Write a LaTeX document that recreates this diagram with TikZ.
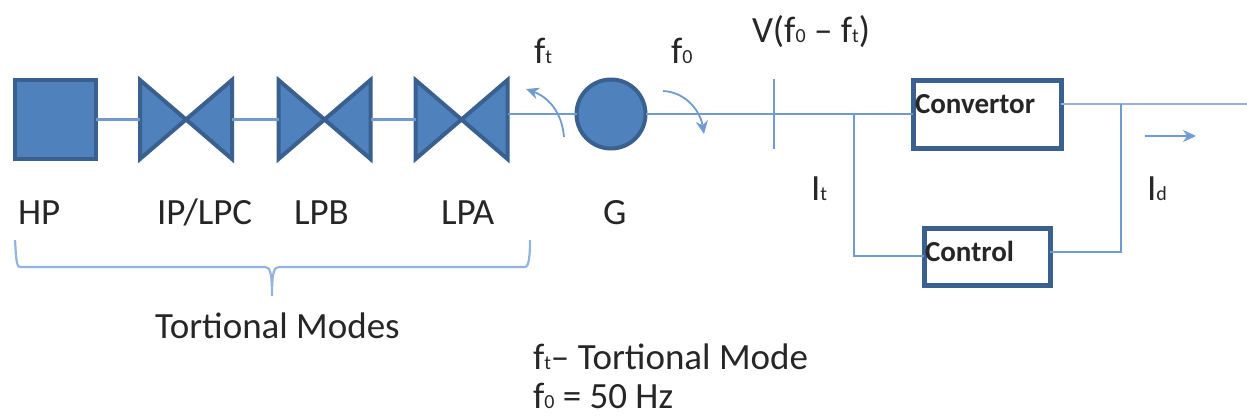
\documentclass[tikz,border=0pt]{standalone}
\usepackage{fontspec}
\setmainfont{Carlito}
\usetikzlibrary{arrows.meta}
\definecolor{fillblue}{HTML}{4F81BD}
\definecolor{edgeblue}{HTML}{3A6090}
\definecolor{wireblue}{HTML}{6F9BD1}
\newcommand{\lowtxt}[1]{{\fontsize{20}{20}\selectfont #1}}
\tikzset{
  x=1pt,y=-1pt,
  lbl/.style={anchor=base west,inner sep=0pt,outer sep=0pt,font=\fontsize{37}{37}\selectfont,text=black!85},
  boxlbl/.style={anchor=base west,inner sep=0pt,outer sep=0pt,font=\fontsize{29}{29}\selectfont\bfseries,text=black!85},
  solidshape/.style={draw=edgeblue,fill=fillblue,line width=4pt,line join=miter},
  valvebox/.style={minimum width=92pt,minimum height=79pt,inner sep=0pt,outer sep=0pt},
  whitebox/.style={draw=edgeblue,fill=white,line width=5pt,inner sep=0pt,outer sep=0pt},
  wire/.style={draw=wireblue,line width=2.8pt},
  thinwire/.style={draw=wireblue,line width=2.4pt},
  bracewire/.style={draw=wireblue!75,line width=2.2pt},
  arrowwire/.style={draw=wireblue,line width=2.2pt,-{Stealth[length=13pt,width=12pt]}}
}
\begin{document}
\begin{tikzpicture}
\useasboundingbox (0,0) rectangle (1247,416);
% equipment
\node[solidshape,minimum width=81pt,minimum height=79pt,inner sep=0pt,outer sep=0pt] (hp) at (55,119.5) {};
\node[valvebox] (v1) at (186,119.5) {};
\node[valvebox] (v2) at (324.5,119.5) {};
\node[valvebox] (v3) at (461.5,119.5) {};
\node[solidshape,circle,minimum size=69pt,inner sep=0pt,outer sep=0pt] (g) at (611,114) {};
\node[whitebox,minimum width=148pt,minimum height=68pt] (conv) at (987,114) {};
\node[whitebox,minimum width=126pt,minimum height=57pt] (ctrl) at (987,256.5) {};
\foreach \v in {v1,v2,v3}{
  \draw[solidshape] (\v.north west) -- (\v.south east) -- (\v.north east) -- (\v.south west) -- cycle;
}
% coordinates
\coordinate (tickT) at (774,79);
\coordinate (tickB) at (774,149);
\coordinate (j1) at (854,114);
\coordinate (j2) at (1121,104);
\coordinate (outE) at (1247,104);
\coordinate (ctrlL) at (ctrl.west |- 0,256);
\coordinate (ctrlR) at (ctrl.east |- 0,252);
\coordinate (convR) at (conv.east |- j2);
\coordinate (iS) at (1145,136);
\coordinate (iE) at (1196,136);
% wires
\draw[wire] (hp.east) -- (v1.west);
\draw[wire] (v1.east) -- (v2.west);
\draw[wire] (v2.east) -- (v3.west);
\draw[thinwire] (g.west) -- (g.west -| v3.east);
\draw[thinwire] (g.east) -- (conv.west);
\draw[thinwire] (tickT) -- (tickB);
\draw[thinwire] (j1) -- (j1 |- ctrlL) -- (ctrlL);
\draw[wire,draw=wireblue!75] (convR) -- (outE);
\draw[thinwire] (j2) -- (j2 |- ctrlR) -- (ctrlR);
\draw[arrowwire] (iS) -- (iE);
% rotation arrows
\coordinate (ftS) at (564,137);
\coordinate (ftE) at (526,89);
\coordinate (foS) at (663,91);
\coordinate (foE) at (704,134);
\draw[arrowwire,line width=1.8pt] (ftS) .. controls (562,112) and (548,97) .. (ftE);
\draw[arrowwire,line width=1.8pt] (foS) .. controls (685,92) and (700,110) .. (foE);
% brace
\coordinate (brL) at (15,240);
\coordinate (brR) at (530,240);
\coordinate (brT) at (272,296);
\draw[bracewire] (brL) .. controls (16,255) and (16,267) .. (20,267) -- (265,267)
  .. controls (270,267) and (272,272) .. (brT)
  .. controls (272,272) and (274,267) .. (279,267) -- (525,267)
  .. controls (529,267) and (530,255) .. (brR);
% labels
\node[lbl] (thp) at (18,224) {HP};
\node[lbl] (tip) at (157,224) {IP/LPC};
\node[lbl] (tlpb) at (294,224) {LPB};
\node[lbl] (tlpa) at (441,224) {LPA};
\node[lbl] (tg) at (603,224) {G};
\node[lbl] (tmodes) at (155,338) {Tortional Modes};
\node[lbl] (tft) at (534,63) {f\lowtxt{t}};
\node[lbl] (tfo) at (671,63) {f\lowtxt{0}};
\node[lbl] (tv) at (752,42) {V(f\lowtxt{0} -- f\lowtxt{t})};
\node[lbl] (tit) at (811,200) {I\lowtxt{t}};
\node[lbl] (tid) at (1147,200) {I\lowtxt{d}};
\node[boxlbl] (tconv) at (915,113) {Convertor};
\node[boxlbl] (tctrl) at (925,261) {Control};
\node[lbl] (tn1) at (533,369) {f\lowtxt{t}-- Tortional Mode};
\node[lbl] (tn2) at (533,408) {f\lowtxt{0} = 50 Hz};
\end{tikzpicture}
\end{document}
